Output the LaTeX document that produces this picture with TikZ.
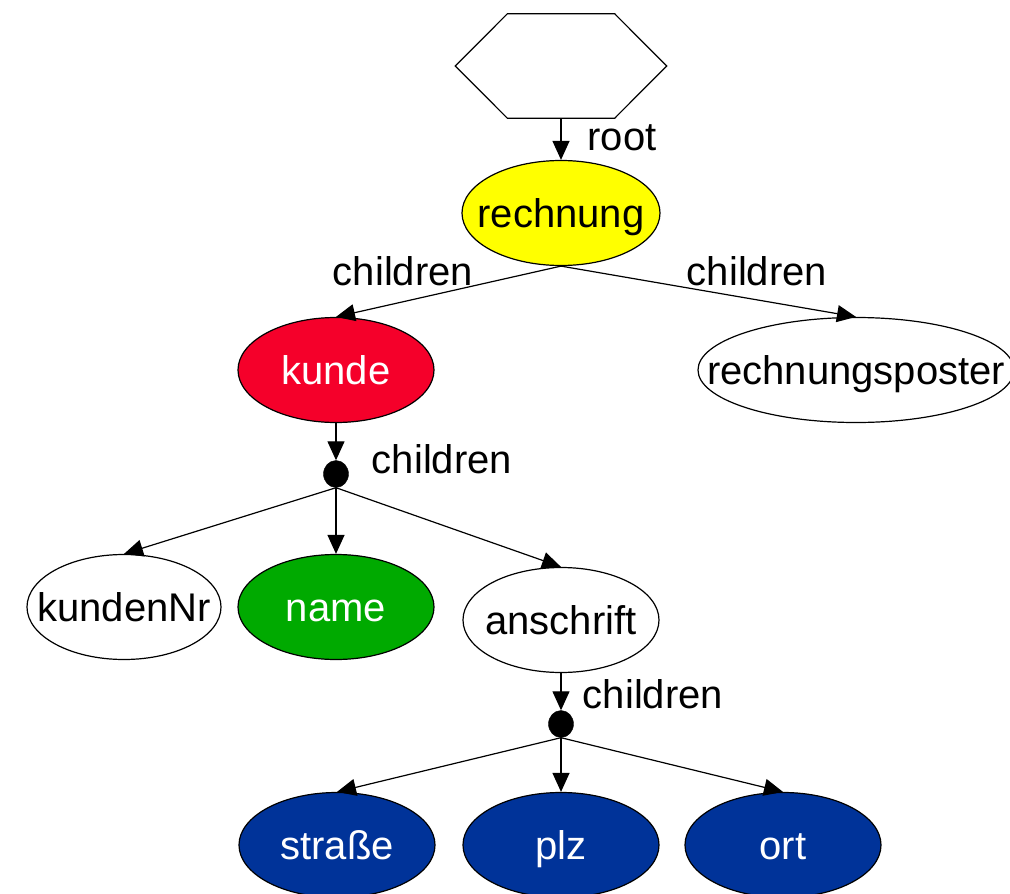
\documentclass[tikz,border=0pt]{standalone}
\usepackage{fontspec}
\setmainfont{Liberation Sans}
\usetikzlibrary{shapes.geometric,arrows.meta,calc}
\definecolor{rootyellow}{RGB}{255,255,0}
\definecolor{kundered}{RGB}{245,0,42}
\definecolor{namegreen}{RGB}{0,170,0}
\definecolor{addrblue}{RGB}{0,51,153}
\begin{document}
\begin{tikzpicture}[x=1pt,y=-1pt,
  every node/.style={font=\fontsize{40}{48}\selectfont},
  elem/.style={draw=black, line width=1.2pt, ellipse, inner sep=0pt,
    minimum width=196pt, minimum height=105pt,
    text height=29pt, text depth=1pt},
  dotnode/.style={draw=black, fill=black, ellipse, inner sep=0pt,
    minimum width=25pt, minimum height=27pt},
  lbl/.style={inner sep=0pt},
  edge/.style={line width=1.2pt, -{Triangle[length=19pt,width=17pt]}}
]
\useasboundingbox (0,0) rectangle (1010,894);
\clip (0,0) rectangle (1010,894);

% document node (hexagon)
\node[minimum width=211pt, minimum height=104pt, inner sep=0pt] (doc) at (561,66) {};
\draw[line width=1.2pt] ($(doc.north west)+(52,0)$) -- ($(doc.north east)+(-52,0)$)
  -- (doc.east) -- ($(doc.south east)+(-52,0)$) -- ($(doc.south west)+(52,0)$)
  -- (doc.west) -- cycle;

% element nodes
\node[elem, fill=rootyellow, minimum width=198pt] (rechnung) at (561,213) {\makebox[0pt]{rechnung}};
\node[elem, fill=kundered, text=white] (kunde) at (336,370) {\makebox[0pt]{kunde}};
\node[elem, fill=white, minimum width=316pt] (poster) at (856,370) {\makebox[0pt]{rechnungsposter}};
\node[dotnode] (dotA) at (336,474) {};
\node[elem, fill=white, minimum width=194pt] (kundenNr) at (124,607) {\makebox[0pt]{kundenNr}};
\node[elem, fill=namegreen, text=white] (name) at (336,607) {\makebox[0pt]{name}};
\node[elem, fill=white] (anschrift) at (561,620) {\makebox[0pt]{anschrift}};
\node[dotnode] (dotB) at (561,724) {};
\node[elem, fill=addrblue, text=white] (strasse) at (337,845) {\makebox[0pt]{straße}};
\node[elem, fill=addrblue, text=white] (plz) at (561,845) {\makebox[0pt]{plz}};
\node[elem, fill=addrblue, text=white] (ort) at (783,845) {\makebox[0pt]{ort}};

% connectors
\draw[edge] (doc.south) -- (rechnung.north);
\draw[edge] (rechnung.south) -- (kunde.north);
\draw[edge] (rechnung.south) -- (poster.north);
\draw[edge] (kunde.south) -- (dotA.north);
\draw[edge] (dotA.south) -- (kundenNr.north);
\draw[edge] (dotA.south) -- (name.north);
\draw[edge] (dotA.south) -- (anschrift.north);
\draw[edge] (anschrift.south) -- (dotB.north);
\draw[edge] (dotB.south) -- (strasse.north);
\draw[edge] (dotB.south) -- (plz.north);
\draw[edge] (dotB.south) -- (ort.north);

% connector labels
\node[lbl] (lroot) at (622,138) {root};
\node[lbl] (lkunde) at (403,271) {children};
\node[lbl] (lposter) at (757,271) {children};
\node[lbl] (ldotA) at (442,459) {children};
\node[lbl] (ldotB) at (653,694) {children};
\end{tikzpicture}
\end{document}
